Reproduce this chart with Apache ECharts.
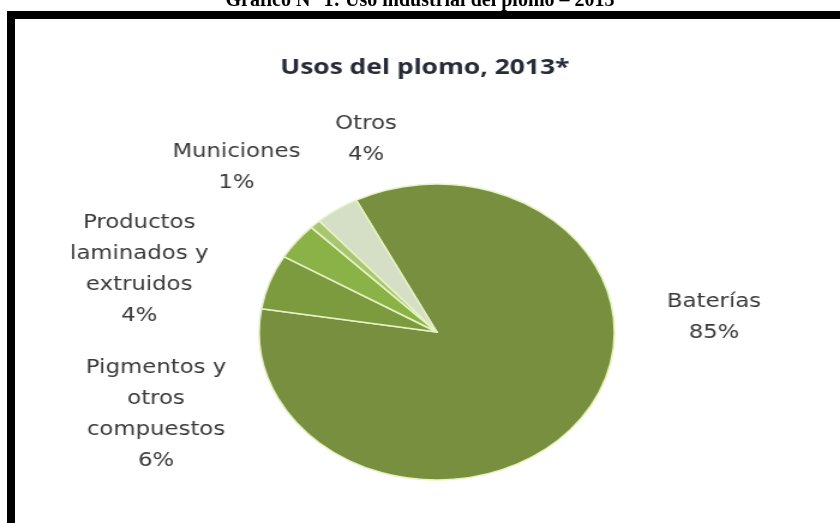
<!DOCTYPE html>
<html>
<head>
<meta charset="utf-8">
<script src="https://cdn.jsdelivr.net/npm/echarts@6/dist/echarts.min.js"></script>
<style>
  html, body { margin: 0; padding: 0; background: #fff; }
  #frame { position: absolute; left: 0; top: 0; width: 840px; height: 523px; }
  /* the pie panel is drawn 700 px wide and stretched to 840 px */
  #pie { position: absolute; left: 0; top: 0; width: 700px; height: 523px;
         transform: scaleX(1.2); transform-origin: 0 0; }
</style>
</head>
<body>
<div id="frame"></div>
<div id="pie"></div>
<script>
// Usos del plomo, 2013 (porcentaje del consumo)
const categories = ['Baterías', 'Pigmentos y\notros\ncompuestos', 'Productos\nlaminados y\nextruidos', 'Municiones', 'Otros'];
const shares = [85, 6, 4, 1, 4];
const sliceColors = ['#778F3E', '#7C9B3E', '#8BB247', '#A8C66F', '#D5DFC5'];

const figureTitle = 'Gráfico N° 1: Uso industrial del plomo – 2013';
const chartTitle = 'Usos del plomo, 2013*';

// label block centres in the (unstretched) pie panel
const labelSpots = [[595, 318], [130, 415], [116, 270], [197, 168], [305, 140]];

// outer frame: caption and the thick black box
const frame = echarts.init(document.getElementById('frame'), null, { renderer: 'canvas' });
frame.setOption({
  animation: false,
  graphic: [
    { type: 'text', left: 'center', top: -9, z: 10,
      style: { text: figureTitle, font: 'bold 20px "Liberation Serif"', fill: '#000' } },
    { type: 'rect', shape: { x: 7, y: 11, width: 833, height: 8 }, style: { fill: '#000' } },
    { type: 'rect', shape: { x: 7, y: 11, width: 8, height: 512 }, style: { fill: '#000' } }
  ]
});

const pie = echarts.init(document.getElementById('pie'), null, { renderer: 'canvas' });
pie.setOption({
  animation: false,
  title: {
    text: chartTitle,
    left: 349, top: 52, textAlign: 'center',
    textStyle: { fontFamily: 'Open Sans', fontWeight: 'bold', fontSize: 22, color: '#262b38' }
  },
  series: [{
    type: 'pie',
    center: [364, 332],
    radius: 148,
    startAngle: 117,
    clockwise: true,
    avoidLabelOverlap: false,
    data: categories.map((name, i) => ({ name: name, value: shares[i], itemStyle: { color: sliceColors[i] } })),
    itemStyle: { borderColor: '#E6F3C4', borderWidth: 1.5 },
    label: {
      show: true,
      position: 'outside',
      formatter: '{b}\n{c}%',
      fontFamily: 'DejaVu Sans',
      fontSize: 19,
      lineHeight: 31,
      color: '#3a3a3a',
      align: 'center'
    },
    labelLine: { show: false },
    labelLayout: function (p) {
      const s = labelSpots[p.dataIndex];
      return { x: s[0], y: s[1], align: 'center', verticalAlign: 'middle', hideOverlap: false };
    },
    emphasis: { disabled: true }
  }]
});
</script>
</body>
</html>
